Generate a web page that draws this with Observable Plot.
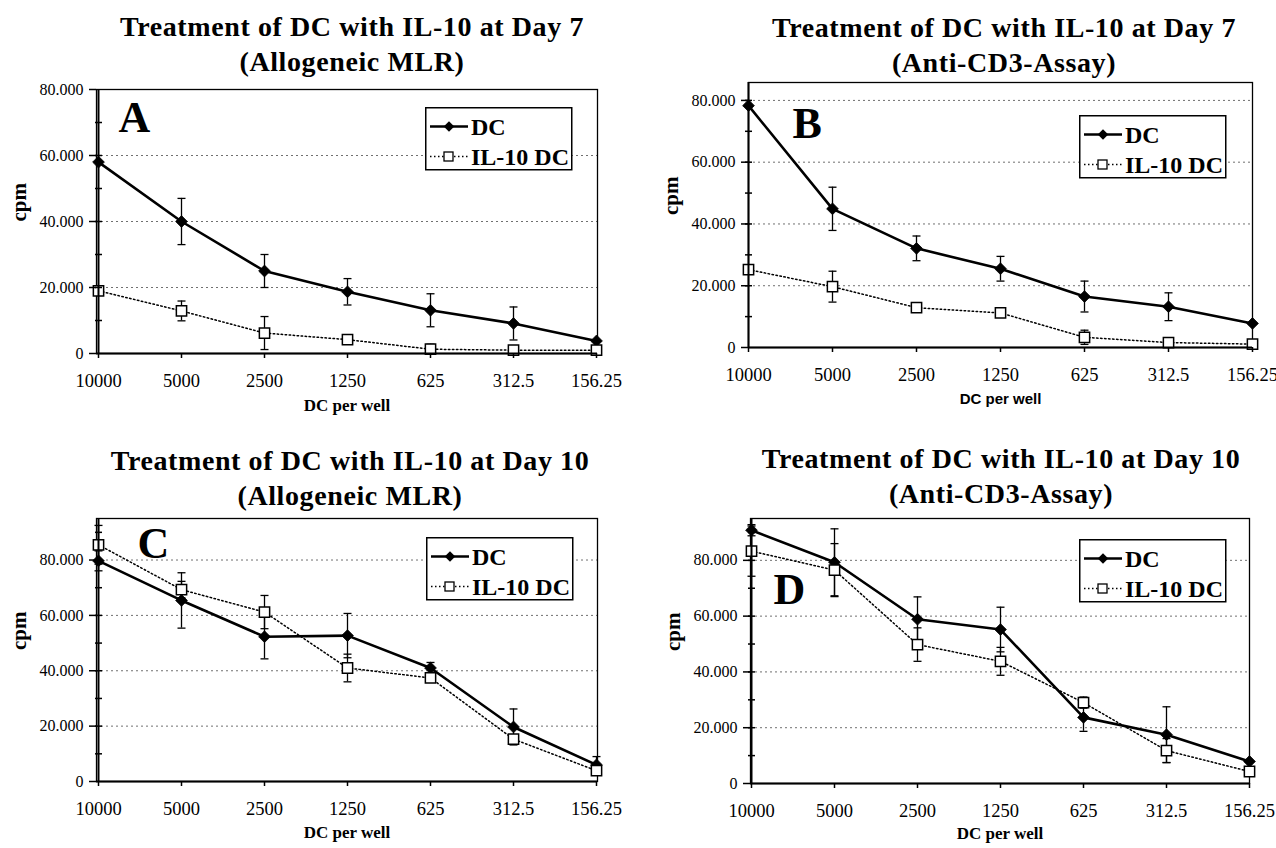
<!DOCTYPE html>
<html><head><meta charset="utf-8">
<script src="https://cdn.jsdelivr.net/npm/d3@7"></script>
<script src="https://cdn.jsdelivr.net/npm/@observablehq/plot@0.6"></script>
<style>
body{margin:0;background:#fff;width:1276px;height:848px;position:relative;overflow:hidden;font-family:"Liberation Serif","Times New Roman",serif;color:#000}
.title{position:absolute;text-align:center;font-weight:bold;font-size:28px;line-height:35px;letter-spacing:0.6px;white-space:nowrap;transform:translateX(-50%)}
.panel{position:absolute}
.legend{position:absolute;overflow:visible}
.panel svg text{font-family:"Liberation Serif","Times New Roman",serif}
</style></head><body>
<script>
// ---- data ----
const categories = ["10000", "5000", "2500", "1250", "625", "312.5", "156.25"];
const seriesNames = ["DC", "IL-10 DC"];
const yTickValues = [0, 20000, 40000, 60000, 80000];

const aTitle = ["Treatment of DC with IL-10 at Day 7", "(Allogeneic MLR)"];
const aDC      = [58000, 40000, 25000, 18700, 13100, 9100, 3800];
const aDCErr   = [0, 7000, 5000, 4000, 5000, 5000, 0];
const aIL      = [19000, 12900, 6200, 4200, 1300, 1000, 1000];
const aILErr   = [0, 3000, 5000, 0, 1500, 1000, 0];

const bTitle = ["Treatment of DC with IL-10 at Day 7", "(Anti-CD3-Assay)"];
const bDC      = [78300, 44900, 32100, 25500, 16500, 13200, 7800];
const bDCErr   = [0, 7000, 4000, 4000, 5000, 4500, 0];
const bIL      = [25200, 19700, 12900, 11200, 3300, 1600, 1100];
const bILErr   = [0, 5000, 1500, 0, 2300, 0, 0];

const cTitle = ["Treatment of DC with IL-10 at Day 10", "(Allogeneic MLR)"];
const cDC      = [79700, 65400, 52300, 52700, 41000, 19700, 6000];
const cDCErr   = [3600, 10000, 8000, 8000, 2000, 6500, 3000];
const cIL      = [85500, 69300, 61200, 41000, 37400, 15300, 3900];
const cILErr   = [7000, 3000, 6000, 5000, 1000, 1000, 0];

const dTitle = ["Treatment of DC with IL-10 at Day 10", "(Anti-CD3-Assay)"];
const dDC      = [90800, 79300, 58900, 55200, 23700, 17500, 7900];
const dDCErr   = [2000, 12000, 8000, 8000, 5000, 10000, 0];
const dIL      = [83300, 76500, 49800, 43800, 29000, 11800, 4300];
const dILErr   = [9000, 9500, 6000, 5000, 2000, 4300, 0];

const xLabel = "DC per well";
const yLabel = "cpm";

// ---- layout ----
const panels = [
  {letter:"A", title:aTitle, dc:aDC, dcErr:aDCErr, il:aIL, ilErr:aILErr, max:80000,
   left:0, top:79, width:620, height:344, mt:10, ml:96, mr:23, mb:70, xlabDy:57, xlabFont:"Liberation Serif",
   letDx:22, letDy:11, titleX:352, titleTop:9, legend:[425,107]},
  {letter:"B", title:bTitle, dc:bDC, dcErr:bDCErr, il:bIL, ilErr:bILErr, max:85800,
   left:640, top:72, width:636, height:345, mt:10, ml:108, mr:24, mb:70, xlabDy:56, xlabFont:"Liberation Sans",
   letDx:44, letDy:24, titleX:1004, titleTop:10, legend:[1079,115]},
  {letter:"C", title:cTitle, dc:cDC, dcErr:cDCErr, il:cIL, ilErr:cILErr, max:95000,
   left:0, top:508, width:620, height:340, mt:10, ml:96, mr:23, mb:67, xlabDy:56, xlabFont:"Liberation Serif",
   letDx:41, letDy:8, titleX:350, titleTop:443, legend:[426,537]},
  {letter:"D", title:dTitle, dc:dDC, dcErr:dDCErr, il:dIL, ilErr:dILErr, max:95000,
   left:640, top:508, width:636, height:340, mt:10, ml:110, mr:27, mb:65, xlabDy:55, xlabFont:"Liberation Serif",
   letDx:23, letDy:54, titleX:1001, titleTop:441, legend:[1079,539]}
];

const hline = {draw(ctx, size){ const r = Math.sqrt(size / Math.PI); ctx.moveTo(-r, 0); ctx.lineTo(r, 0); }};
const fmt = d => d3.format(",.0f")(d).replace(/,/g, ".");
const SERIF = "Liberation Serif";

function buildPanel(p) {
  const dcRows = categories.map((c, i) => ({cat:c, v:p.dc[i], err:p.dcErr[i], s:seriesNames[0]}));
  const ilRows = categories.map((c, i) => ({cat:c, v:p.il[i], err:p.ilErr[i], s:seriesNames[1]}));
  const errRows = dcRows.concat(ilRows).filter(d => d.err > 0);
  const minors = d3.range(10000, p.max, 10000);
  const grid = yTickValues.filter(v => v > 0 && v <= p.max);
  const chart = Plot.plot({
    width:p.width, height:p.height,
    marginTop:p.mt, marginLeft:p.ml, marginRight:p.mr, marginBottom:p.mb,
    style:{fontFamily:SERIF, fontSize:"16px", color:"#000", background:"transparent", overflow:"visible"},
    x:{type:"point", domain:categories, padding:0},
    y:{domain:[0, p.max]},
    marks:[
      Plot.ruleY(grid, {stroke:"#707070", strokeWidth:1, strokeDasharray:"2,3"}),
      Plot.frame({stroke:"#000", strokeWidth:1.3}),
      Plot.ruleX(errRows, {x:"cat", y1:d => d.v - d.err, y2:d => d.v + d.err, stroke:"#000", strokeWidth:1.3}),
      Plot.dot(errRows, {x:"cat", y:d => d.v + d.err, symbol:hline, r:4, stroke:"#000", strokeWidth:1.3}),
      Plot.dot(errRows, {x:"cat", y:d => d.v - d.err, symbol:hline, r:4, stroke:"#000", strokeWidth:1.3}),
      Plot.line(dcRows, {x:"cat", y:"v", stroke:"#000", strokeWidth:2.6}),
      Plot.line(ilRows, {x:"cat", y:"v", stroke:"#000", strokeWidth:1.5, strokeDasharray:"1.5,2.5"}),
      Plot.dot(dcRows, {x:"cat", y:"v", symbol:"diamond2", r:5.3, fill:"#000", stroke:"#000", strokeWidth:0.8}),
      Plot.dot(ilRows, {x:"cat", y:"v", symbol:"square", r:5.8, fill:"#fff", stroke:"#000", strokeWidth:1.5}),
      Plot.ruleY([0], {stroke:"#000", strokeWidth:2}),
      Plot.ruleX([categories[0]], {stroke:"#000", strokeWidth:2}),
      Plot.dot(minors, {x:() => categories[0], y:d => d, symbol:hline, r:3.5, stroke:"#000", strokeWidth:1.5}),
      Plot.axisY({ticks:grid.concat([0]), tickSize:7, tickPadding:6, tickFormat:fmt, label:null, fontSize:16, fontFamily:SERIF, strokeWidth:1.5}),
      Plot.axisX({tickSize:5, tickPadding:15, label:null, fontSize:18.5, fontFamily:SERIF, strokeWidth:1.5}),
      Plot.text([xLabel], {frameAnchor:"bottom", dy:p.xlabDy, fontSize:p.xlabFont === "Liberation Sans" ? 15 : 17, fontWeight:"bold", fontFamily:p.xlabFont}),
      Plot.text([yLabel], {frameAnchor:"left", dx:-77, rotate:-90, fontSize:21, fontWeight:"bold", fontFamily:SERIF}),
      Plot.text([p.letter], {frameAnchor:"top-left", dx:p.letDx, dy:p.letDy, textAnchor:"start", lineAnchor:"top", fontSize:44, fontWeight:"bold", fontFamily:SERIF})
    ]
  });
  const wrap = document.createElement("div");
  wrap.className = "panel";
  wrap.style.left = p.left + "px";
  wrap.style.top = p.top + "px";
  wrap.appendChild(chart);
  document.body.appendChild(wrap);
  if (p.xlabFont === "Liberation Sans") {
    d3.select(chart).selectAll("text").filter(function(){ return this.textContent === xLabel; })
      .style("font-family", "Liberation Sans");
  }

  const t = document.createElement("div");
  t.className = "title";
  t.style.left = p.titleX + "px";
  t.style.top = p.titleTop + "px";
  t.innerHTML = p.title.join("<br>");
  document.body.appendChild(t);

  // legend
  const svg = d3.create("svg").attr("class", "legend").attr("width", 148).attr("height", 64)
    .style("left", p.legend[0] + "px").style("top", p.legend[1] + "px");
  svg.append("rect").attr("x", 0.75).attr("y", 0.75).attr("width", 146).attr("height", 62).attr("fill", "#fff").attr("stroke", "#000").attr("stroke-width", 1.5);
  const rowsY = [19.5, 49.5];
  svg.append("line").attr("x1", 5).attr("x2", 43).attr("y1", rowsY[0]).attr("y2", rowsY[0]).attr("stroke", "#000").attr("stroke-width", 2.6);
  svg.append("path").attr("d", d3.symbol(d3.symbolDiamond2, 70)()).attr("transform", `translate(24,${rowsY[0]})`).attr("fill", "#000");
  svg.append("line").attr("x1", 5).attr("x2", 43).attr("y1", rowsY[1]).attr("y2", rowsY[1]).attr("stroke", "#000").attr("stroke-width", 1.5).attr("stroke-dasharray", "1.5,2.5");
  svg.append("rect").attr("x", 19).attr("y", rowsY[1] - 4.5).attr("width", 9).attr("height", 9).attr("fill", "#fff").attr("stroke", "#000").attr("stroke-width", 1.3);
  seriesNames.forEach((n, i) => {
    svg.append("text").attr("x", 46).attr("y", rowsY[i]).attr("dy", "0.35em").attr("font-size", 24).attr("font-weight", "bold")
      .attr("font-family", SERIF).text(n);
  });
  document.body.appendChild(svg.node());
}
panels.forEach(buildPanel);
</script>
</body></html>
